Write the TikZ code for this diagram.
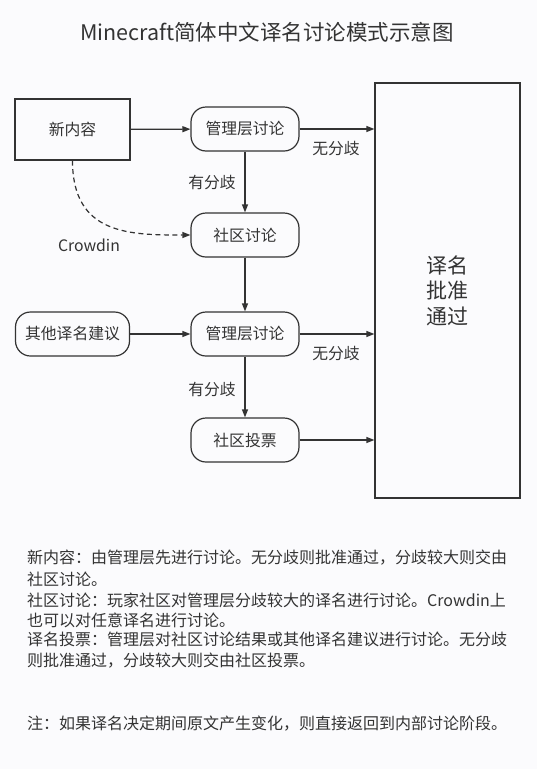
\documentclass[tikz,border=0pt]{standalone}
\usepackage{fontspec}
\setmainfont{Noto Sans CJK SC}
\usetikzlibrary{arrows.meta}
\definecolor{ink}{HTML}{333333}
\definecolor{bg}{HTML}{FBFBFD}
\tikzset{
  base/.style={draw=ink, line width=1.2pt, text=ink, font=\fontsize{15.8}{18}\selectfont, inner sep=0pt},
  sqbox/.style={base, rectangle},
  rbox/.style={base, rectangle, rounded corners=15pt, minimum width=108pt, minimum height=44pt},
  conn/.style={draw=ink, line width=1.2pt, -{Triangle[length=8pt,width=6pt]}},
  lbl/.style={text=ink, font=\fontsize{15.8}{18}\selectfont, inner sep=0pt},
  para/.style={text=ink, font=\fontsize{16}{18}\selectfont, inner sep=0pt, anchor=west}
}
\begin{document}
\begin{tikzpicture}[x=1pt,y=-1pt]
\fill[bg] (0,0) rectangle (537,769);
\useasboundingbox (0,0) rectangle (537,769);
\node[text=ink, font=\fontsize{21.5}{24}\selectfont, inner sep=0pt] (title) at (267,32) {Minecraft简体中文译名讨论模式示意图};
\node[sqbox, minimum width=115pt, minimum height=61pt] (new) at (72.5,129.5) {新内容};
\node[rbox] (m1) at (245,129) {管理层讨论};
\node[rbox] (c1) at (245,235) {社区讨论};
\node[rbox, minimum width=114pt] (other) at (72.5,334) {其他译名建议};
\node[rbox] (m2) at (245,334) {管理层讨论};
\node[rbox] (vote) at (245,440) {社区投票};
\node[sqbox, minimum width=145pt, minimum height=415pt, align=center, font=\fontsize{21}{25.5}\selectfont] (big) at (447.5,290.5) {译名\\批准\\通过};
\draw[conn] (new) -- (m1);
\draw[conn] (m1.east) -- (m1.east -| big.west);
\draw[conn] (m1) -- (c1);
\draw[conn, dashed, dash pattern=on 5pt off 3.5pt] (new.south) .. controls (72.5,235) and (130,235) .. (c1.west);
\draw[conn] (c1) -- (m2);
\draw[conn] (other) -- (m2);
\draw[conn] (m2.east) -- (m2.east -| big.west);
\draw[conn] (m2) -- (vote);
\draw[conn] (vote.east) -- (vote.east -| big.west);
\node[lbl] (l1) at (336,148.6) {无分歧};
\node[lbl] (l2) at (212,183) {有分歧};
\node[lbl] (l3) at (89,245) {Crowdin};
\node[lbl] (l4) at (336,353.7) {无分歧};
\node[lbl] (l5) at (212,389.7) {有分歧};
\node[para] (p1) at (27,557.4) {新内容：由管理层先进行讨论。无分歧则批准通过，分歧较大则交由};
\node[para] (p2) at (27,579.5) {社区讨论。};
\node[para] (p3) at (27,600) {社区讨论：玩家社区对管理层分歧较大的译名进行讨论。Crowdin上};
\node[para] (p4) at (27,620) {也可以对任意译名进行讨论。};
\node[para] (p5) at (27,639.8) {译名投票：管理层对社区讨论结果或其他译名建议进行讨论。无分歧};
\node[para] (p6) at (27,660.2) {则批准通过，分歧较大则交由社区投票。};
\node[para] (note) at (27,723.8) {注：如果译名决定期间原文产生变化，则直接返回到内部讨论阶段。};
\end{tikzpicture}
\end{document}
